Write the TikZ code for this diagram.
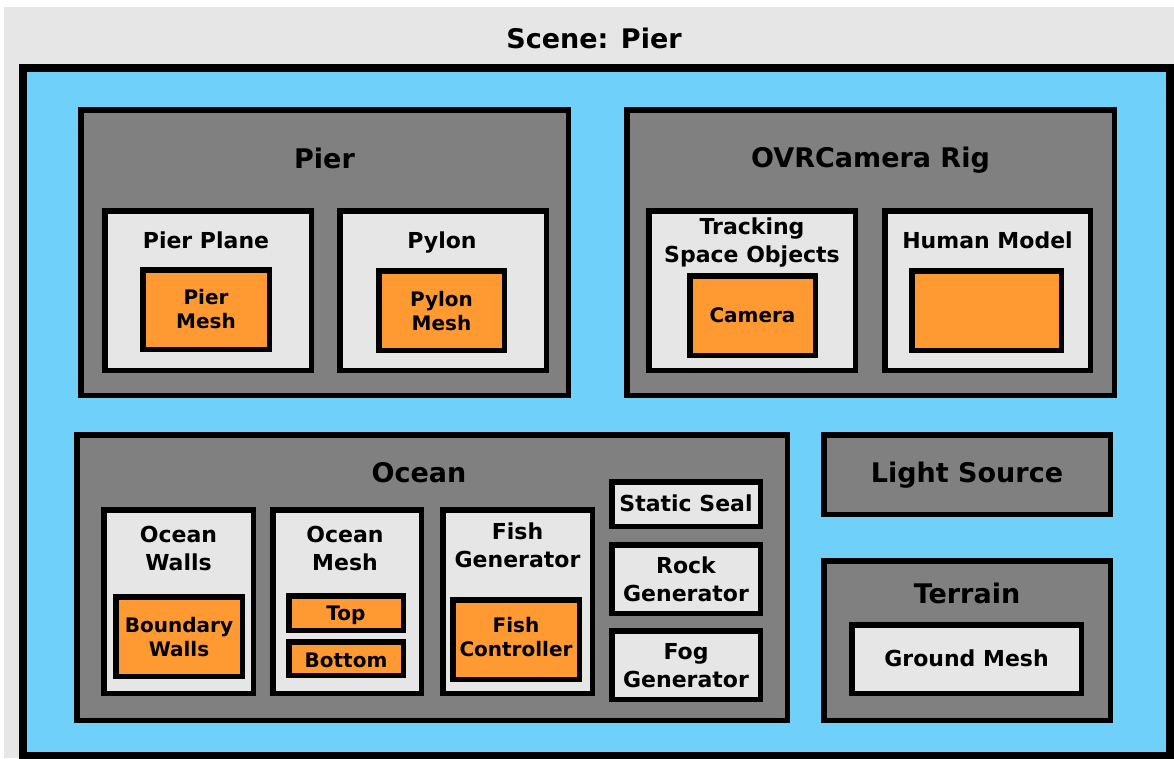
\documentclass[tikz,border=0pt]{standalone}
\usepackage{fontspec}
\setmainfont{DejaVu Sans}
\usetikzlibrary{fit}
\definecolor{bgc}{RGB}{230,230,230}
\definecolor{bluec}{RGB}{111,209,250}
\definecolor{grayc}{RGB}{128,128,128}
\definecolor{lightc}{RGB}{230,230,230}
\definecolor{orangec}{RGB}{255,154,51}
\newcommand\mybox[6]{\node[#1, fit={(#3+2.75,#4+2.75) (#5-2.75,#6-2.75)}] (#2) {};}
\begin{document}
\begin{tikzpicture}[x=1pt,y=-1pt,
  frame/.style={draw=black, line width=5.5pt, inner sep=0pt, outer sep=0pt},
  grp/.style={frame, fill=grayc},
  sub/.style={frame, fill=lightc},
  leaf/.style={frame, fill=orangec},
  ttl/.style={font=\fontsize{27}{32}\selectfont\bfseries, anchor=base, inner sep=0pt},
  lbl/.style={font=\fontsize{22}{27.5}\selectfont\bfseries, anchor=base, align=center, inner sep=0pt},
  olbl/.style={font=\fontsize{20}{23.5}\selectfont\bfseries, anchor=base, align=center, inner sep=0pt}]
\useasboundingbox (0,0) rectangle (1174,758);
\node[fill=bgc, inner sep=0pt, outer sep=0pt, fit={(4,7) (1174,758)}] (bg) {};
\node[draw=black, line width=8pt, fill=bluec, inner sep=0pt, outer sep=0pt, fit={(23,68) (1170,756)}] (scene) {};
\node[ttl] (scenet) at (594,48) {Scene: Pier};
% Pier
\mybox{grp}{pier}{78}{107}{571}{398}
\node[ttl] (piert) at (324.5,168) {Pier};
\mybox{sub}{pierplane}{102}{208}{314}{373}
\node[lbl] (pierplanet) at (206,248) {Pier Plane};
\mybox{leaf}{piermesh}{140}{267}{272}{352}
\node[olbl] (piermesht) at (206,328) {Pier\\Mesh};
\mybox{sub}{pylon}{337}{208}{549}{373}
\node[lbl] (pylont) at (442,248) {Pylon};
\mybox{leaf}{pylonmesh}{376}{268}{507}{353}
\node[olbl] (pylonmesht) at (441.5,330) {Pylon\\Mesh};
% OVR
\mybox{grp}{ovr}{624}{107}{1117}{398}
\node[ttl] (ovrt) at (870.5,167) {OVRCamera Rig};
\mybox{sub}{tracking}{646}{208}{858}{373}
\node[lbl] (trackingt) at (752,262) {Tracking\\Space Objects};
\mybox{leaf}{camera}{687}{273}{818}{358}
\node[olbl] (camerat) at (752.5,322) {Camera};
\mybox{sub}{human}{882}{208}{1093}{373}
\node[lbl] (humant) at (987.5,248) {Human Model};
\mybox{leaf}{humanmesh}{909}{268}{1064}{353}
% Ocean
\mybox{grp}{ocean}{74}{432}{790}{723}
\node[ttl] (oceant) at (419,482) {Ocean};
\mybox{sub}{walls}{101}{507}{256}{696}
\node[lbl] (wallst) at (178.5,570) {Ocean\\Walls};
\mybox{leaf}{boundary}{113}{594}{245}{679}
\node[olbl] (boundaryt) at (179,656) {Boundary\\Walls};
\mybox{sub}{omesh}{270}{507}{424}{696}
\node[lbl] (omesht) at (345,570) {Ocean\\Mesh};
\mybox{leaf}{top}{286}{593}{406}{633}
\node[olbl] (topt) at (346,620) {Top};
\mybox{leaf}{bottom}{286}{639}{406}{678}
\node[olbl] (bottomt) at (346,667) {Bottom};
\mybox{sub}{fishgen}{440}{507}{595}{696}
\node[lbl] (fishgent) at (517.5,567) {Fish\\Generator};
\mybox{leaf}{fishctrl}{450}{597}{582}{682}
\node[olbl] (fishctrlt) at (516,656) {Fish\\Controller};
\mybox{sub}{seal}{609}{479}{763}{529}
\node[lbl] (sealt) at (686,511) {Static Seal};
\mybox{sub}{rock}{609}{542}{763}{616}
\node[lbl] (rockt) at (686,601) {Rock\\Generator};
\mybox{sub}{fog}{609}{628}{763}{702}
\node[lbl] (fogt) at (686,687) {Fog\\Generator};
% Light / Terrain
\mybox{grp}{light}{821}{432}{1113}{517}
\node[ttl] (lightt) at (967,482) {Light Source};
\mybox{grp}{terrain}{821}{558}{1113}{723}
\node[ttl] (terraint) at (967,603) {Terrain};
\mybox{sub}{ground}{849}{622}{1084}{696}
\node[lbl] (groundt) at (966.5,666) {Ground Mesh};
\end{tikzpicture}
\end{document}
